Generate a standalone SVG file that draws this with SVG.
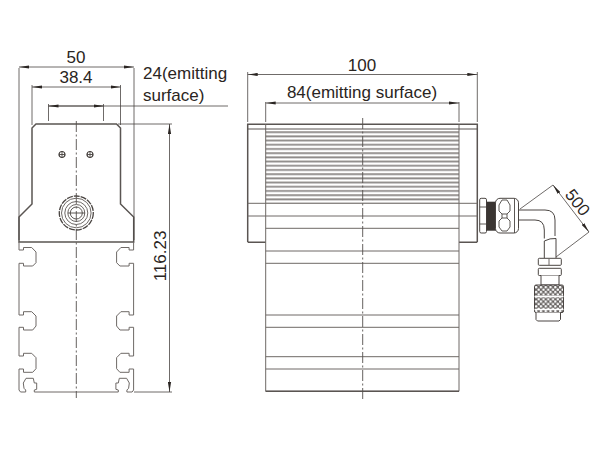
<svg xmlns="http://www.w3.org/2000/svg" width="600" height="450" viewBox="0 0 600 450">
<style>
text{font-family:"Liberation Sans",Arial,sans-serif;font-size:17px;fill:#2a2522}
.o{fill:none;stroke:#6e6966;stroke-width:1}
.t{fill:none;stroke:#5a5552;stroke-width:1.5}
.th{fill:none;stroke:#4a4542;stroke-width:.9}
.d{fill:none;stroke:#4a4542;stroke-width:.8}
.c{fill:none;stroke:#55504d;stroke-width:.9;stroke-dasharray:11 2.5 2 2.5}
.w{fill:#fff;stroke:#4a4542;stroke-width:1}
</style>
<defs>
<marker id="a" viewBox="0 0 10 4" refX="10" refY="2" markerWidth="10" markerHeight="4" markerUnits="userSpaceOnUse" orient="auto-start-reverse"><path d="M0 .4L10 2L0 3.600Z" fill="#2a2522"/></marker>
<pattern id="fins" x="0" y="131" width="10" height="4.200" patternUnits="userSpaceOnUse"><rect width="10" height="4.200" fill="#fff"/><rect y="0" width="10" height="1" fill="#b0acaa"/><rect y="1" width="10" height="1" fill="#757170"/></pattern>
<pattern id="knurl" x="535" y="286" width="4.800" height="4.800" patternUnits="userSpaceOnUse"><rect width="4.800" height="4.800" fill="#666260"/><circle cx="1.200" cy="1.200" r="1.250" fill="#fff"/><circle cx="3.600" cy="3.600" r="1.250" fill="#fff"/></pattern>
<g id="hole"><circle r="3" fill="#fff" stroke="#3f3a37" stroke-width="1.200"/><path d="M-3 0H3M0-3V3" class="th"/></g>
<path id="half" class="o" d="M19 242V250H23.500V247.500H31.700L36 252V262.700L32.700 266H23.500V263.300H19V315H23.500V311.700H31.700L36 316V326L32.700 330H23.500V327.300H19V356H23.500V353.300H31.700L36 357.700V368.700L32.700 372.300H23.500V369H19V390L20.500 392H25.700V390L24 388.300L23.300 383L26 378.300H33.300L34.300 383H36.700V389.300L34.300 390V392"/>
</defs>
<g id="front-view">
<path class="t" d="M19 242V217L32 204V128L36 124H116.500L120.500 128V204L133.700 217V242ZM19 242H133.700"/>
<use href="#half"/>
<use href="#half" transform="translate(152.600 0) scale(-1 1)"/>
<path class="o" d="M34.300 392H118.300"/>
<use href="#hole" x="62" y="154.500"/>
<use href="#hole" x="90" y="154.500"/>
<g id="gland">
<circle cx="76.300" cy="213" r="17" fill="#fff" stroke="#4a4542" stroke-width="1.300" stroke-dasharray="6 1"/>
<circle cx="76.300" cy="213" r="14.800" class="o"/>
<circle cx="76.300" cy="213" r="11.500" class="o"/>
<circle cx="76.300" cy="213" r="8.500" class="o"/>
<circle cx="76.300" cy="213" r="6" class="th"/>
</g>
<path class="c" d="M76.300 121V398"/>
<path class="th" d="M68 213H85"/>
</g>
<g id="side-view">
<rect x="265.700" y="130" width="193.300" height="72.500" fill="url(#fins)"/>
<path class="t" d="M265.700 242.300H248.500L247.700 241.500V124.300H477.300V241.500L476.500 242.300H459"/>
<path class="o" d="M265.700 124.300V391.300H459V124.300"/>
<path class="t" d="M265.700 391.300H459"/>
<path d="M247.700 129H477.300" fill="none" stroke="#5a5552" stroke-width="1.100"/>
<path class="o" d="M247.700 203.300H477.300M247.700 216H477.300M265.700 228.300H459M265.700 251H459M265.700 263.300H459M265.700 315H459M265.700 327.300H459M265.700 356.700H459M265.700 369H459"/>
<path class="c" d="M362.700 118V401"/>
</g>
<g id="fitting">
<path fill="none" stroke="#4a4542" stroke-width="1" d="M516 210H545Q555 210 555 220V236M516 220H535Q544.300 220 544.300 230V238.500M544.300 241Q550 238 556 238.500M544.300 241V258M556 238.500V258"/>
<rect class="w" x="479.700" y="198.300" width="6.800" height="34.700" rx="1.500"/>
<path class="th" d="M479.700 207H486.500M479.700 224H486.500"/>
<rect x="486.500" y="201.700" width="9.500" height="29" fill="#3a3532"/>
<rect class="w" x="495.500" y="198.300" width="23" height="34.700" rx="4.500"/>
<path class="th" d="M499 205L502 200H507L510 205V211L507 214H502L499 211ZM499 221L502 218H507L510 221V227L507 231H502L499 227ZM502 214V218M507 214V218M514.500 199V233"/>
<rect class="w" x="538.300" y="258.300" width="23" height="7" rx="1"/>
<path class="o" d="M549 258.500V265"/>
<rect class="w" x="538.300" y="268.300" width="23" height="7.200" rx="1"/>
<path class="w" d="M541 275.500V285H559V275.500"/>
<rect x="534.500" y="285" width="29" height="27.500" rx="1.500" fill="url(#knurl)" stroke="#4a4542"/>
<path d="M534.500 296.500H563.500M534.500 309.500H563.500" stroke="#fff" stroke-width="1.400"/>
<path class="w" d="M536 312.500V319.500L537.500 321H559L560.500 319.500V312.500"/>
</g>
<g id="dimensions">
<path class="d" d="M19 240V68M134 240V68M32 125V85M120.500 125V85M48.500 121V104M103.500 121V104M48.500 106H228M118 124H172M134 392H172"/>
<path class="d" marker-start="url(#a)" marker-end="url(#a)" d="M19 67H134"/>
<path class="d" marker-start="url(#a)" marker-end="url(#a)" d="M32 87H120.500"/>
<path class="d" marker-start="url(#a)" marker-end="url(#a)" d="M48.500 106H103.500"/>
<path class="d" marker-start="url(#a)" marker-end="url(#a)" d="M169.500 124V392"/>
<path class="d" d="M247.700 122V72M477.300 122V72M265.700 122V102M459 122V102M520 209L553 185M556 257L589 232"/>
<path class="d" marker-start="url(#a)" marker-end="url(#a)" d="M247.700 74.500H477.300"/>
<path class="d" marker-start="url(#a)" marker-end="url(#a)" d="M265.700 103H459"/>
<path class="d" marker-start="url(#a)" marker-end="url(#a)" d="M553 185L589 232"/>
</g>
<g id="labels">
<text x="76" y="62.700" text-anchor="middle">50</text>
<text x="76" y="82.700" text-anchor="middle">38.4</text>
<text x="143" y="79">24(emitting</text>
<text x="143" y="101">surface)</text>
<text transform="translate(165.500 256) rotate(-90)" text-anchor="middle">116.23</text>
<text x="362" y="70.500" text-anchor="middle">100</text>
<text x="362" y="98" text-anchor="middle">84(emitting surface)</text>
<text transform="translate(573 206) rotate(52)" text-anchor="middle">500</text>
</g>
</svg>
